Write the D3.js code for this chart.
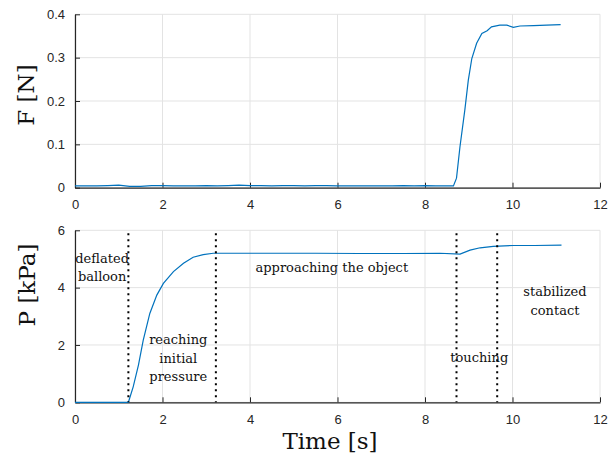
<!DOCTYPE html>
<html>
<head>
<meta charset="utf-8">
<script src="https://cdn.jsdelivr.net/npm/d3@7"></script>
<style>
  body { margin: 0; background: #fff; }
  .tick text { font-family: "Liberation Sans", Arial, sans-serif; font-size: 13px; fill: #262626; }
</style>
</head>
<body>
<script>
// force sensor readings F [N] over time [s]
var forceTime = [0, 0.25, 0.5, 0.75, 1.0, 1.25, 1.5, 1.75, 2.0, 2.25, 2.5, 2.75, 3.0, 3.25,
  3.5, 3.75, 4.0, 4.25, 4.5, 4.75, 5.0, 5.25, 5.5, 5.75, 6.0, 6.25, 6.5, 6.75, 7.0, 7.25,
  7.5, 7.75, 8.0, 8.25, 8.5, 8.65, 8.72, 8.80, 8.91, 8.99, 9.07, 9.18, 9.30, 9.42, 9.52,
  9.71, 9.87, 10.02, 10.17, 10.48, 10.78, 11.10];
var forceValue = [0.004, 0.004, 0.004, 0.005, 0.006, 0.003, 0.003, 0.005, 0.005, 0.004,
  0.004, 0.004, 0.005, 0.004, 0.005, 0.006, 0.005, 0.005, 0.004, 0.005, 0.005, 0.004,
  0.005, 0.005, 0.004, 0.004, 0.004, 0.004, 0.004, 0.004, 0.005, 0.004, 0.005, 0.004,
  0.004, 0.004, 0.022, 0.095, 0.179, 0.248, 0.298, 0.333, 0.356, 0.362, 0.371,
  0.375, 0.375, 0.370, 0.373, 0.374, 0.375, 0.376];

// pressure P [kPa] over time [s]
var pressureTime = [0, 0.5, 1.0, 1.22, 1.33, 1.45, 1.56, 1.71, 1.87, 2.02, 2.25, 2.48, 2.70,
  2.93, 3.16, 3.5, 4.5, 5.5, 6.5, 7.5, 8.34, 8.80, 9.03, 9.26, 9.56, 10.02, 10.5, 11.12];
var pressureValue = [0, 0, 0, 0, 0.54, 1.30, 2.17, 3.10, 3.74, 4.15, 4.56, 4.85, 5.06,
  5.15, 5.20, 5.20, 5.20, 5.20, 5.19, 5.19, 5.20, 5.17, 5.31, 5.39, 5.44, 5.47, 5.47, 5.48];

// phase boundaries (dotted lines) and labels
var phaseLines = [1.22, 3.22, 8.72, 9.65];
var phaseLabels = [
  {lines: ["deflated", "balloon"], t: 0.62, p: 4.87},
  {lines: ["reaching", "initial", "pressure"], t: 2.36, p: 2.03},
  {lines: ["approaching the object"], t: 5.87, p: 4.55},
  {lines: ["touching"], t: 9.24, p: 1.4},
  {lines: ["stabilized", "contact"], t: 10.97, p: 3.7}
];

var xTicks = [0, 2, 4, 6, 8, 10, 12];
var fTicks = [0, 0.1, 0.2, 0.3, 0.4];
var pTicks = [0, 2, 4, 6];

var W = 608, H = 460;
var left = 75, right = 600;
var serif = "'DejaVu Serif', serif";

var svg = d3.select("body").append("svg")
    .attr("width", W).attr("height", H);

var x = d3.scaleLinear().domain([0, 12]).range([left, right]);
var yF = d3.scaleLinear().domain([0, 0.4]).range([187.7, 14.3]);
var yP = d3.scaleLinear().domain([0, 6]).range([402.3, 230.3]);

function drawPanel(y, yTicks, fmt, ts, vs) {
  var g = svg.append("g");
  var top = y.range()[1], bottom = y.range()[0];

  // grid
  g.append("g").selectAll("line").data(xTicks).enter().append("line")
    .attr("x1", function(d) { return x(d); }).attr("x2", function(d) { return x(d); })
    .attr("y1", top).attr("y2", bottom)
    .attr("stroke", "#e3e3e3").attr("stroke-width", 1);
  g.append("g").selectAll("line").data(yTicks).enter().append("line")
    .attr("x1", left).attr("x2", right)
    .attr("y1", function(d) { return y(d); }).attr("y2", function(d) { return y(d); })
    .attr("stroke", "#e3e3e3").attr("stroke-width", 1);

  // axes with inward ticks
  var xa = g.append("g")
    .attr("transform", "translate(0," + bottom + ")")
    .call(d3.axisBottom(x).tickValues(xTicks).tickSizeInner(-5).tickSizeOuter(0).tickPadding(12));
  var ya = g.append("g")
    .attr("transform", "translate(" + left + ",0)")
    .call(d3.axisLeft(y).tickValues(yTicks).tickFormat(fmt).tickSizeInner(-5).tickSizeOuter(0).tickPadding(10));
  [xa, ya].forEach(function(a) {
    a.select(".domain").attr("stroke", "#262626").attr("stroke-width", 1.2);
    a.selectAll(".tick line").attr("stroke", "#262626");
  });

  var line = d3.line()
    .x(function(d, i) { return x(ts[i]); })
    .y(function(d) { return y(d); });
  g.append("path")
    .attr("d", line(vs))
    .attr("fill", "none")
    .attr("stroke", "#0072BD")
    .attr("stroke-width", 1.2);
  return g;
}

drawPanel(yF, fTicks, function(d) { return d === 0 ? "0" : d3.format(".1f")(d); }, forceTime, forceValue);
var pg = drawPanel(yP, pTicks, d3.format("d"), pressureTime, pressureValue);

// dotted phase lines
pg.selectAll(".phase").data(phaseLines).enter().append("line")
  .attr("x1", function(d) { return x(d); }).attr("x2", function(d) { return x(d); })
  .attr("y1", yP(5.9)).attr("y2", yP(0))
  .attr("stroke", "#000").attr("stroke-width", 2)
  .attr("stroke-dasharray", "2,4");

// phase labels
phaseLabels.forEach(function(l) {
  var t = pg.append("text")
    .style("font-family", serif)
    .style("font-size", "13px")
    .attr("fill", "#111")
    .attr("text-anchor", "middle")
    .attr("x", x(l.t)).attr("y", yP(l.p));
  l.lines.forEach(function(s, i) {
    t.append("tspan").attr("x", x(l.t)).attr("dy", i === 0 ? 0 : 18.5).text(s);
  });
});

// axis titles
function title(txt, tr) {
  svg.append("text")
    .style("font-family", serif)
    .style("font-size", "23px")
    .attr("fill", "#111")
    .attr("text-anchor", "middle")
    .attr("transform", tr)
    .text(txt);
}
title("F [N]", "translate(34,95)rotate(-90)");
title("P [kPa]", "translate(35,285)rotate(-90)");
title("Time [s]", "translate(330,449)");
</script>
</body>
</html>
